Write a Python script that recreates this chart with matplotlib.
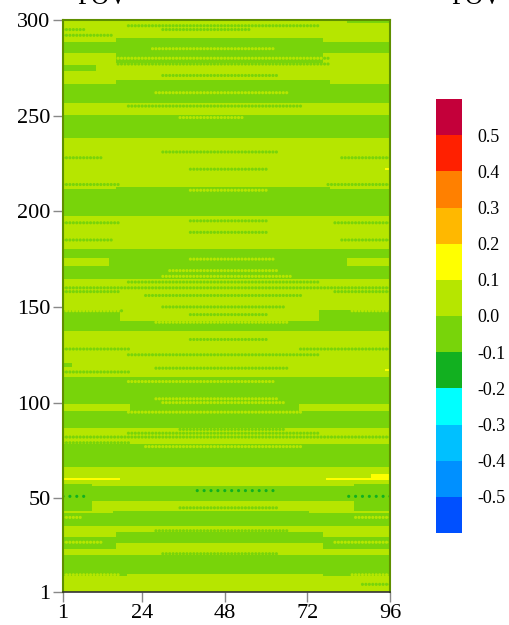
import numpy as np
import matplotlib
matplotlib.use("Agg")
import matplotlib.pyplot as plt
from matplotlib.colors import ListedColormap, BoundaryNorm

plt.rcParams['font.family'] = ['Liberation Serif', 'DejaVu Serif']

n_cols = 96
n_rows = 300

# colour levels, -0.6 .. 0.6 in steps of 0.1
levels = [-0.6, -0.5, -0.4, -0.3, -0.2, -0.1, 0.0, 0.1, 0.2, 0.3, 0.4, 0.5, 0.6]
level_colors = ['#0050ff', '#0090ff', '#00c0ff', '#00ffff', '#12b020', '#78d40a',
                '#b6e600', '#ffff00', '#ffb800', '#ff8000', '#ff2000', '#c4003a']
cbar_ticks = [-0.5, -0.4, -0.3, -0.2, -0.1, 0.0, 0.1, 0.2, 0.3, 0.4, 0.5]

light = 0.05
dark = -0.05
yellow = 0.15
deep = -0.15

# dark bands: rows in the middle columns, rows near the sides, and the side/middle split
band_lo = [11, 27, 36, 49, 67, 87, 138, 165, 198, 239, 257, 278]
band_hi = [20, 32, 43, 56, 78, 113, 142, 180, 212, 250, 268, 290]
edge_lo = [10, 24, 36, 44, 67, 87, 138, 165, 198, 239, 257, 283]
edge_hi = [20, 29, 42, 57, 78, 113, 148, 180, 211, 250, 266, 288]
cut_l = [20, 17, 16, 10, 1, 1, 18, 17, 17, 17, 17, 17]
cut_r = [76, 76, 72, 85, 96, 96, 75, 78, 78, 78, 78, 76]

# small patches on top of the bands
patch_r0 = [96, 96, 172, 172, 274, 119, 299, 60, 60, 61, 222, 117]
patch_r1 = [99, 99, 175, 175, 276, 120, 300, 60, 60, 62, 222, 117]
patch_c0 = [1, 70, 1, 84, 1, 1, 84, 1, 78, 91, 95, 95]
patch_c1 = [20, 96, 14, 96, 10, 3, 96, 17, 96, 96, 96, 96]
patch_val = [light, light, light, light, dark, dark, dark,
             yellow, yellow, yellow, yellow, yellow]

# dotted rows (dots take the other shade of green)
dot_row = [297, 295, 295, 292, 285, 280, 277, 271, 262, 255, 249, 231, 228, 228,
           222, 214, 214, 211, 195, 194, 194, 189, 185, 185, 175, 169, 166, 163,
           160, 158, 158, 156, 150, 148, 148, 146, 142, 133, 128, 128, 125, 118,
           116, 111, 102, 100, 95, 86, 84, 82, 79, 77, 45, 40, 40, 33, 27, 27,
           21, 10, 10, 5]
dot_c0 = [20, 1, 30, 1, 27, 17, 17, 30, 28, 20, 35, 30, 1, 82,
          38, 1, 78, 38, 38, 1, 80, 38, 1, 82, 38, 32, 30, 20,
          1, 1, 80, 25, 30, 1, 85, 38, 28, 38, 1, 70, 20, 28,
          1, 20, 28, 30, 20, 35, 20, 1, 1, 25, 35, 1, 86, 28, 1, 80,
          30, 1, 85, 88]
dot_c1 = [75, 7, 55, 15, 62, 78, 78, 63, 66, 70, 53, 63, 12, 96,
          60, 17, 96, 60, 60, 17, 96, 60, 15, 96, 62, 63, 67, 75,
          96, 17, 96, 70, 65, 18, 96, 60, 66, 60, 20, 96, 75, 66,
          20, 62, 63, 65, 70, 65, 75, 96, 20, 70, 63, 6, 96, 66, 12, 96,
          63, 17, 96, 96]

# darker green dots near the bottom
deep_row = [54, 51, 51]
deep_c0 = [40, 1, 84]
deep_c1 = [62, 8, 96]

grid = np.full((n_rows, n_cols), light)
for lo, hi, elo, ehi, cl, cr in zip(band_lo, band_hi, edge_lo, edge_hi, cut_l, cut_r):
    grid[lo - 1:hi, cl - 1:cr] = dark
    if cl > 1:
        grid[elo - 1:ehi, 0:cl - 1] = dark
    if cr < n_cols:
        grid[elo - 1:ehi, cr:] = dark
for r0, r1, c0, c1, v in zip(patch_r0, patch_r1, patch_c0, patch_c1, patch_val):
    grid[r0 - 1:r1, c0 - 1:c1] = v

dx, dy, dv = [], [], []
for r, c0, c1 in zip(dot_row, dot_c0, dot_c1):
    for c in range(c0, c1 + 1):
        dx.append(c)
        dy.append(r)
        dv.append(dark if grid[r - 1, c - 1] > 0 else light)
for r, c0, c1 in zip(deep_row, deep_c0, deep_c1):
    for c in range(c0, c1 + 1, 2):
        dx.append(c)
        dy.append(r)
        dv.append(deep)

cmap = ListedColormap(level_colors)
norm = BoundaryNorm(levels, cmap.N)

fig = plt.figure(figsize=(5.09, 6.25), dpi=100)
ax = fig.add_axes([0.1238, 0.0528, 0.6424, 0.9152])
im = ax.imshow(grid, cmap=cmap, norm=norm, origin='lower', aspect='auto',
               extent=[0.5, n_cols + 0.5, 0.5, n_rows + 0.5], interpolation='nearest')
ax.scatter(dx, dy, c=dv, cmap=cmap, norm=norm, s=5, marker='o', linewidths=0)
ax.set_xlim(1, n_cols)
ax.set_ylim(1, n_rows)
ax.set_xticks([1, 24, 48, 72, 96])
ax.set_yticks([1, 50, 100, 150, 200, 250, 300])
ax.tick_params(direction='out', length=7, width=1, color='#888888',
               labelsize=16, pad=2)
for side in ['left', 'right', 'top']:
    ax.spines[side].set_color('#5f8f00')
    ax.spines[side].set_linewidth(1.5)
ax.spines['bottom'].set_color('#333333')
ax.spines['bottom'].set_linewidth(1.2)

cax = fig.add_axes([0.8566, 0.1472, 0.0511, 0.6944])
cb = fig.colorbar(im, cax=cax, boundaries=levels, ticks=cbar_ticks)
cb.outline.set_visible(False)
cb.ax.minorticks_off()
cb.ax.set_yticklabels(['%.1f' % t for t in cbar_ticks])
cb.ax.tick_params(which='both', length=0, labelsize=13, pad=11)

# panel titles sit above the top edge of the figure
fig.text(0.2, 0.994, 'FOV', fontsize=18, ha='center', va='baseline')
fig.text(0.935, 0.994, 'FOV', fontsize=18, ha='center', va='baseline')

fig.savefig('out.png', dpi=100)
